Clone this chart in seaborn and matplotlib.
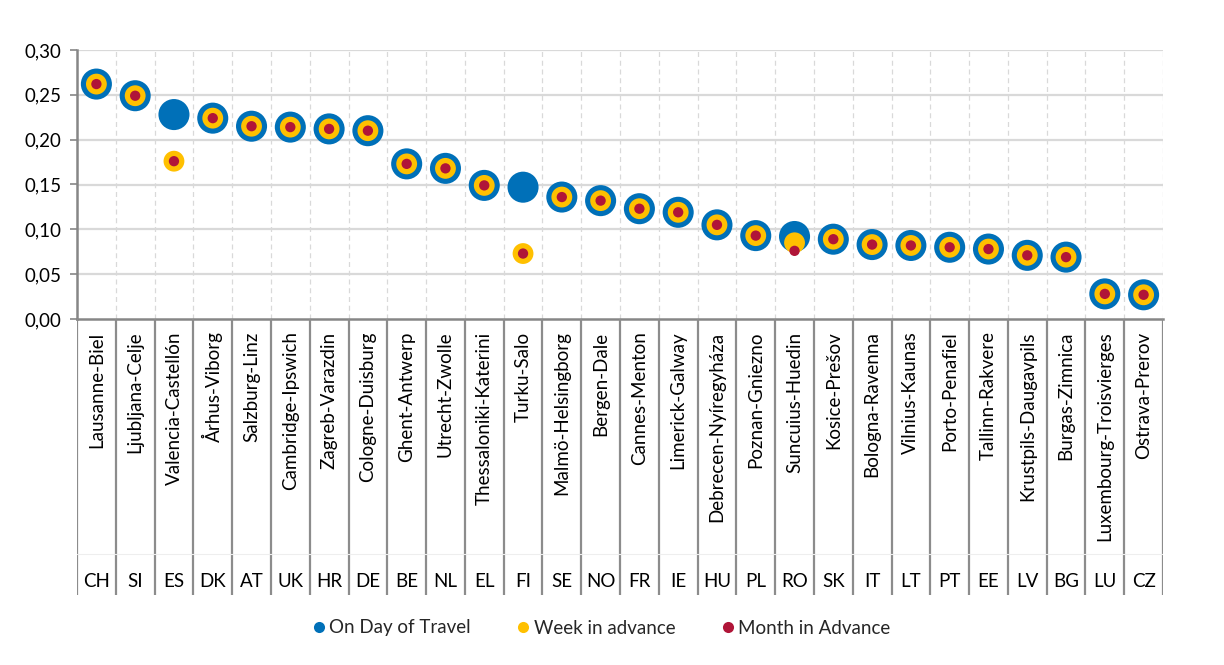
import matplotlib
matplotlib.use("Agg")
import matplotlib.pyplot as plt
from matplotlib.ticker import FuncFormatter, MultipleLocator
from matplotlib.lines import Line2D
import seaborn as sns
import pandas as pd

routes = ["Lausanne-Biel", "Ljubljana-Celje", "Valencia-Castellón", "Århus-Viborg",
          "Salzburg-Linz", "Cambridge-Ipswich", "Zagreb-Varazdin", "Cologne-Duisburg",
          "Ghent-Antwerp", "Utrecht-Zwolle", "Thessaloniki-Katerini", "Turku-Salo",
          "Malmö-Helsingborg", "Bergen-Dale", "Cannes-Menton", "Limerick-Galway",
          "Debrecen-Nyíregyháza", "Poznan-Gniezno", "Suncuius-Huedin", "Kosice-Prešov",
          "Bologna-Ravenna", "Vilnius-Kaunas", "Porto-Penafiel", "Tallinn-Rakvere",
          "Krustpils-Daugavpils", "Burgas-Zimnica", "Luxembourg-Troisvierges", "Ostrava-Prerov"]
countries = ["CH", "SI", "ES", "DK", "AT", "UK", "HR", "DE", "BE", "NL", "EL", "FI", "SE", "NO",
             "FR", "IE", "HU", "PL", "RO", "SK", "IT", "LT", "PT", "EE", "LV", "BG", "LU", "CZ"]

day_of_travel = [0.262, 0.249, 0.228, 0.224, 0.215, 0.214, 0.212, 0.210, 0.173, 0.168,
                 0.149, 0.147, 0.136, 0.132, 0.123, 0.119, 0.105, 0.093, 0.092, 0.089,
                 0.083, 0.082, 0.080, 0.078, 0.071, 0.069, 0.028, 0.027]
week_in_advance = [0.262, 0.249, 0.176, 0.224, 0.215, 0.214, 0.212, 0.210, 0.173, 0.168,
                   0.149, 0.073, 0.136, 0.132, 0.123, 0.119, 0.105, 0.093, 0.085, 0.089,
                   0.083, 0.082, 0.080, 0.078, 0.071, 0.069, 0.028, 0.027]
month_in_advance = [0.262, 0.249, 0.176, 0.224, 0.215, 0.214, 0.212, 0.210, 0.173, 0.168,
                    0.149, 0.073, 0.136, 0.132, 0.123, 0.119, 0.105, 0.093, 0.076, 0.089,
                    0.083, 0.082, 0.080, 0.078, 0.071, 0.069, 0.028, 0.027]

series_labels = ["On Day of Travel", "Week in advance", "Month in Advance"]
series_colors = ["#0070B8", "#FFC000", "#B01538"]
series_sizes = [500, 225, 55]

sns.set_theme(style="white")
plt.rcParams["font.family"] = ["Lato", "DejaVu Sans"]
FS = 13.5

fig = plt.figure(figsize=(12.24, 6.65), dpi=100)
ax = fig.add_axes([77 / 1224, 1 - 319 / 665, (1163 - 77) / 1224, (319 - 50) / 665])
lab = fig.add_axes([77 / 1224, 1 - 595 / 665, (1163 - 77) / 1224, (595 - 319) / 665])

n = len(routes)
xpos = list(range(n))
df = pd.DataFrame({"x": xpos, "route": routes, "country": countries,
                   series_labels[0]: day_of_travel,
                   series_labels[1]: week_in_advance,
                   series_labels[2]: month_in_advance})

# grid first, so markers sit on top
for v in [0.05, 0.10, 0.15, 0.20, 0.25, 0.30]:
    ax.axhline(v, color="#d9d9d9", lw=1.6, zorder=0)
for k in range(1, n + 1):
    ax.axvline(k - 0.5, color="#d9d9d9", lw=0.9, ls=(0, (4, 3)), zorder=0)

for name, col, s in zip(series_labels, series_colors, series_sizes):
    sns.scatterplot(data=df, x="x", y=name, ax=ax, color=col, s=s,
                    edgecolor="none", linewidth=0, zorder=3, legend=False)

ax.set_xlim(-0.5, n - 0.5)
ax.set_ylim(0, 0.30)
ax.yaxis.set_major_locator(MultipleLocator(0.05))
ax.yaxis.set_major_formatter(FuncFormatter(lambda v, p: f"{v:.2f}".replace(".", ",")))
ax.set_xticks([])
ax.set_xlabel("")
ax.set_ylabel("")
ax.tick_params(axis="y", which="major", left=True, length=5, width=1.2,
               color="#868686", labelsize=FS, pad=6, labelcolor="#000000")
for side in ["top", "right"]:
    ax.spines[side].set_visible(False)
for side in ["left", "bottom"]:
    ax.spines[side].set_color("#868686")
    ax.spines[side].set_linewidth(1.8)
ax.patch.set_alpha(0)

# two-level category labels below the axis
lab.set_xlim(-0.5, n - 0.5)
lab.set_ylim(0, 1)
lab.axis("off")
for k in range(n + 1):
    lab.axvline(k - 0.5, color="#8c8c8c", lw=1.6)
lab.axhline(0.15, color="#eeeeee", lw=0.8)
for i in range(n):
    lab.text(xpos[i], 0.955, routes[i], rotation=90, ha="center", va="top",
             fontsize=FS, color="#000000")
    lab.text(xpos[i], 0.05, countries[i], ha="center", va="center",
             fontsize=FS, color="#000000")

handles = [Line2D([0], [0], marker="o", ls="none", markersize=8,
                  markerfacecolor=c, markeredgecolor="none") for c in series_colors]
fig.legend(handles, series_labels, loc="center", bbox_to_anchor=(600 / 1224, 1 - 628 / 665),
           ncol=3, frameon=False, fontsize=FS, handletextpad=0.05, columnspacing=2.3,
           handlelength=1.0)

fig.savefig("out.png", dpi=100, facecolor="white")
